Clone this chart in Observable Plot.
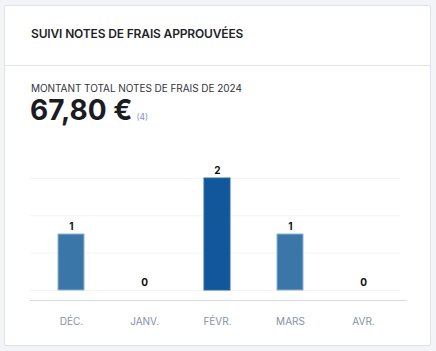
<!DOCTYPE html>
<html>
<head>
<meta charset="utf-8">
<script src="https://cdn.jsdelivr.net/npm/d3@7"></script>
<script src="https://cdn.jsdelivr.net/npm/@observablehq/plot@0.6"></script>
<style>
  html, body { margin: 0; padding: 0; }
  body { width: 436px; height: 351px; background: #f3f4f8; position: relative; overflow: hidden; font-family: Inter, "Noto Sans", sans-serif; }
  .card { position: absolute; left: 4px; top: 5px; width: 425px; height: 339px; background: #fff; border: 1px solid #e0e2ea; border-radius: 2px; }
  .head { position: absolute; left: 26px; top: 20px; font-size: 12px; font-weight: 600; color: #1f1f29; letter-spacing: -0.15px; }
  .divider { position: absolute; left: 0; right: 0; top: 59px; border-top: 1px solid #e3e5ec; }
  .sub { position: absolute; left: 26px; top: 76px; font-size: 10px; color: #33333d; letter-spacing: -0.05px; }
  .big { position: absolute; left: 25px; top: 87px; font-size: 28px; font-weight: 700; color: #1b1b22; white-space: nowrap; }
  .big .count { font-size: 8.5px; font-weight: 400; color: #8393b8; margin-left: 4px; }
  #chart { position: absolute; left: 0; top: 130px; }
</style>
</head>
<body>
<div class="card">
  <div class="head">SUIVI NOTES DE FRAIS APPROUVÉES</div>
  <div class="divider"></div>
  <div class="sub">MONTANT TOTAL NOTES DE FRAIS DE 2024</div>
  <div class="big">67,80 €<span class="count">(4)</span></div>
</div>
<div id="chart"></div>
<script>
const months = ["DÉC.", "JANV.", "FÉVR.", "MARS", "AVR."];
const counts = [1, 0, 2, 1, 0];
const gridTicks = [0, 2/3, 4/3, 2];

const data = months.map((m, i) => ({month: m, value: counts[i]}));
const maxVal = d3.max(counts);

const chart = Plot.plot({
  width: 436,
  height: 210,
  marginTop: 48,
  marginBottom: 40,
  marginLeft: 30,
  marginRight: 30,
  style: {fontFamily: "Inter, 'Noto Sans', sans-serif", background: "transparent", overflow: "visible"},
  x: {domain: months, paddingInner: 0.645, paddingOuter: 0.37, align: 0.49, label: null},
  y: {domain: [0, 2], insetBottom: 10, label: null, axis: null},
  marks: [
    Plot.gridY(gridTicks, {stroke: "#f3f4f7", strokeOpacity: 1, insetRight: 6}),
    Plot.barY(data, {x: "month", y: "value", fill: d => d.value === maxVal ? "#12579a" : "#3a76a8", stroke: d => d.value === maxVal ? "#2a6aa6" : "#8db2d6", strokeWidth: 1}),
    Plot.text(data, {x: "month", y: "value", text: d => String(d.value), dy: -8, fontSize: 10, fontWeight: 700, fill: "#111"}),
    Plot.frame({anchor: "bottom", stroke: "#d9dbe4"}),
    Plot.axisX({tickSize: 0, tickPadding: 17, fontSize: 10, fill: "#8592a8", textAnchor: "middle", label: null})
  ]
});
document.getElementById("chart").appendChild(chart);
</script>
</body>
</html>
